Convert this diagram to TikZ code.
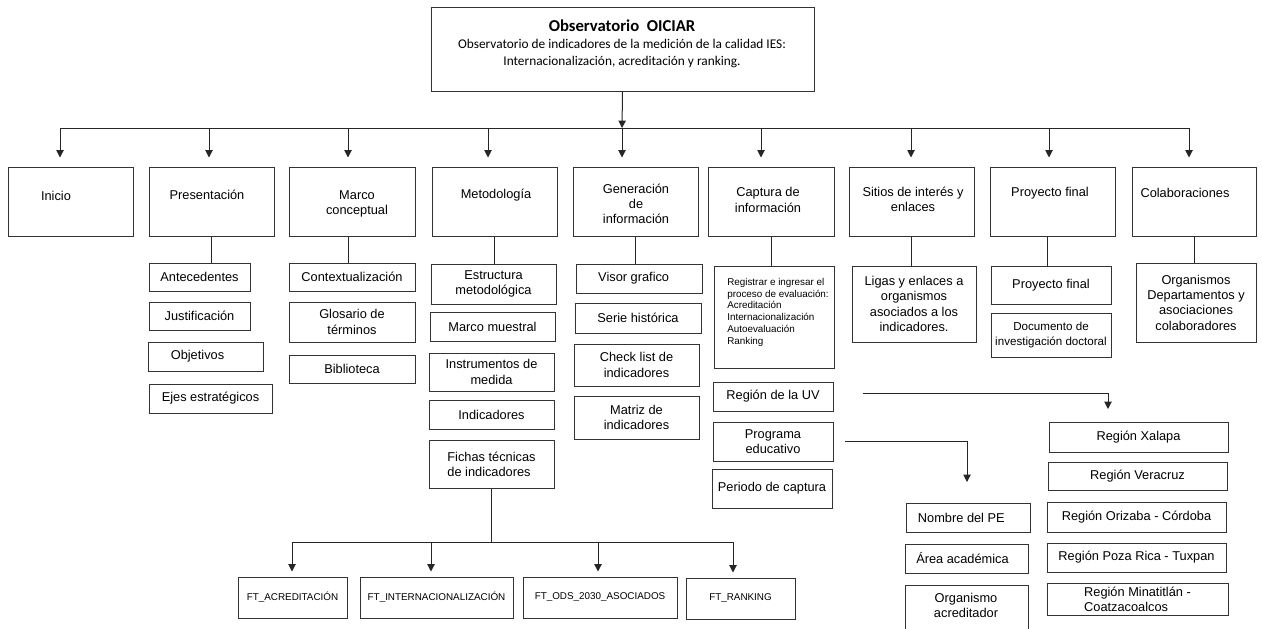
\documentclass[tikz,border=0pt]{standalone}
\usepackage{fontspec}
\setmainfont{Liberation Sans}
\newfontfamily\calib{Carlito}
\usetikzlibrary{arrows.meta}
\newcommand\bx[7][]{\node[box,#1,minimum width={(#5-#3)*0.75pt},minimum height={(#6-#4)*0.75pt}] (#2) at ({(#3+#5)/2},{(#4+#6)/2}) {#7};}
\begin{document}
\begin{tikzpicture}[x=0.75pt,y=-0.75pt,
  box/.style={draw=black!80, line width=0.75pt, inner sep=0pt, align=center, font=\fontsize{9.6}{11.4}\selectfont},
  lbl/.style={inner sep=0pt, align=center, font=\fontsize{9.6}{11.4}\selectfont},
  small/.style={font=\fontsize{7.4}{9}\selectfont},
  conn/.style={draw=black!85, line width=0.75pt},
  arr/.style={conn, -{Triangle[length=5.5pt,width=5.5pt]}},
]
\useasboundingbox (0,0) rectangle (1262,628);

% top box
\bx{top}{431}{7}{814}{91}{}
\node[lbl, font=\calib\fontsize{10}{12.75}\selectfont] (topT) at (622,44)
  {{\fontsize{12.5}{12.75}\selectfont\bfseries Observatorio\ \ OICIAR}\\
   Observatorio de indicadores de la medición de la calidad IES:\\
   Internacionalización, acreditación y ranking.};

% main row
\bx{inicio}{8}{167}{133}{236}{}
\node[lbl] (inicioT) at (56,196) {Inicio};
\bx{pres}{149}{167}{274}{236}{}
\node[lbl] (presT) at (207,195) {Presentación};
\bx{marco}{289}{167}{415}{236}{}
\node[lbl] (marcoT) at (357,204) {Marco\\conceptual};
\bx{metod}{432}{167}{557}{236}{}
\node[lbl] (metodT) at (496,195) {Metodología};
\bx{gener}{573}{167}{698}{236}{}
\node[lbl] (generT) at (636,204) {Generación\\de\\información};
\bx{capt}{708}{167}{834}{236}{}
\node[lbl] (captT) at (768,200) {Captura de\\información};
\bx{sitios}{849}{167}{974}{236}{}
\node[lbl] (sitiosT) at (913,199) {Sitios de interés y\\enlaces};
\bx{proy}{990}{167}{1115}{236}{}
\node[lbl] (proyT) at (1050,193) {Proyecto final};
\bx{colab}{1132}{167}{1256}{236}{}
\node[lbl] (colabT) at (1185,193) {Colaboraciones};

% bus
\coordinate (b1) at (60,128);
\coordinate (b2) at (209,128);
\coordinate (b3) at (348,128);
\coordinate (b4) at (488,128);
\coordinate (b5) at (622,128);
\coordinate (b6) at (761,128);
\coordinate (b7) at (911,128);
\coordinate (b8) at (1049,128);
\coordinate (b9) at (1189,128);
\draw[arr] (top.south) -- (b5);
\draw[conn] (b1) -- (b9);
\foreach \c/\n in {b1/inicio,b2/pres,b3/marco,b4/metod,b5/gener,b6/capt,b7/sitios,b8/proy,b9/colab}
  \draw[arr, shorten >=6.75pt] (\c) -- (\c |- \n.north);

% Presentacion column
\bx{ante}{149}{263}{250}{291}{Antecedentes}
\bx{just}{149}{302}{250}{330}{Justificación}
\bx{obj}{148}{342}{263}{371}{Objetivos\hspace*{12pt}}
\bx{ejes}{149}{384}{272}{413}{Ejes estratégicos}
\draw[conn] (pres.south) -- (pres.south |- ante.north);

% Marco conceptual column
\bx{ctx}{289}{263}{415}{291}{Contextualización}
\bx{glos}{289}{302}{415}{342}{Glosario de\\términos}
\bx{bib}{289}{355}{415}{383}{Biblioteca}
\draw[conn] ([xshift=-3pt]marco.south) -- ([xshift=-3pt]marco.south |- ctx.north);

% Metodologia column
\bx{estr}{431}{264}{556}{304}{Estructura\\metodológica}
\bx{mmue}{430}{312}{555}{341}{Marco muestral}
\bx{inst}{429}{353}{554}{391}{Instrumentos de\\medida}
\bx{indi}{429}{400}{554}{429}{Indicadores}
\bx[align=left]{fich}{429}{440}{554}{488}{Fichas técnicas\\de indicadores}
\draw[conn] (metod.south) -- (metod.south |- estr.north);

% Generacion column
\bx{visor}{576}{264}{702}{293}{Visor grafico\hspace*{8pt}}
\bx{serie}{575}{303}{701}{333}{Serie histórica}
\bx{check}{574}{344}{699}{386}{Check list de\\indicadores}
\bx{matriz}{574}{396}{699}{439}{Matriz de\\indicadores}
\draw[conn] (gener.south) -- (gener.south |- visor.north);

% Captura column
\bx{reg}{714}{266}{834}{368}{}
\node[inner sep=0pt, align=left, anchor=north west, font=\fontsize{7.4}{8.8}\selectfont] (regT) at (727,278)
  {Registrar e ingresar el\\proceso de evaluación:\\Acreditación\\Internacionalización\\Autoevaluación\\Ranking};
\bx{uv}{713}{382}{833}{411}{Región de la UV}
\bx{prog}{713}{422}{833}{461}{Programa\\educativo}
\bx{peri}{712}{469}{832}{508}{Periodo de captura}
\draw[conn] (capt.south) -- (capt.south |- reg.north);

% Sitios column
\bx[font=\fontsize{9.6}{11.5}\selectfont]{ligas}{852}{266}{976}{342}{Ligas y enlaces a\\organismos\\asociados a los\\indicadores.}
\draw[conn] (sitios.south) -- (sitios.south |- ligas.north);

% Proyecto column
\bx{pf}{991}{266}{1111}{304}{Proyecto final}
\bx[font=\fontsize{8.7}{11.2}\selectfont]{doc}{991}{313}{1111}{357}{Documento de\\investigación doctoral}
\draw[conn] ([xshift=-3.5pt]proy.south) -- ([xshift=-3.5pt]proy.south |- pf.north);

% Colaboraciones column
\bx[font=\fontsize{9.6}{11.5}\selectfont]{org}{1136}{263}{1256}{342}{Organismos\\Departamentos y\\asociaciones\\colaboradores}
\draw[conn] (colab.south) -- (colab.south |- org.north);

% Programa educativo branch
\bx{nom}{906}{503}{1030}{532}{Nombre del PE\hspace*{10pt}}
\bx{area}{905}{544}{1028}{573}{Área académica\hspace*{6pt}}
\bx{orgacr}{905}{585}{1028}{640}{}
\node[lbl] (orgacrT) at (966,605.5) {Organismo\\acreditador};
\coordinate (pgB) at (967,482);
\draw[arr] ([xshift=8.25pt]prog.east) -| (pgB);

% Region de la UV branch
\bx{xal}{1049}{422}{1228}{452}{Región Xalapa}
\bx{ver}{1048}{462}{1227}{490}{Región Veracruz}
\bx{ori}{1047}{502}{1226}{532}{Región Orizaba - Córdoba}
\bx{poza}{1047}{543}{1226}{572}{Región Poza Rica - Tuxpan}
\bx[align=left]{mina}{1047}{583}{1228}{615}{Región Minatitlán -\\Coatzacoalcos}
\coordinate (uvB) at (1108,409);
\draw[arr] ([xshift=21.75pt,yshift=2.6pt]uv.east) -| (uvB);

% Fichas tecnicas branch
\bx[small]{fta}{238}{577}{347}{618}{FT\_ACREDITACIÓN}
\bx[small]{fti}{360}{577}{513}{618}{FT\_INTERNACIONALIZACIÓN}
\bx[small]{fto}{523}{577}{677}{618}{FT\_ODS\_2030\_ASOCIADOS}
\bx[small]{ftr}{686}{578}{795}{619}{FT\_RANKING}
\coordinate (f1) at (292,542);
\coordinate (f2) at (431,542);
\coordinate (f3) at (598,542);
\coordinate (f4) at (733,542);
\draw[conn] (fich.south) -- (fich.south |- f1);
\draw[conn] (f1) -- (f4);
\foreach \c/\n in {f1/fta,f2/fti,f3/fto,f4/ftr}
  \draw[arr, shorten >=3.75pt] (\c) -- (\c |- \n.north);
\end{tikzpicture}
\end{document}
